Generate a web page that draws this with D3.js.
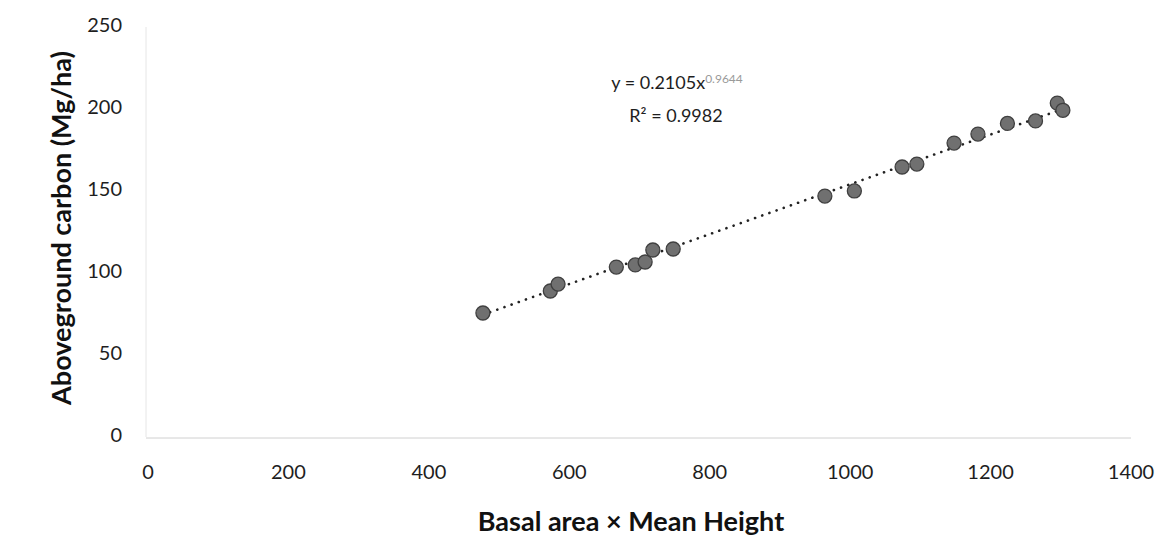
<!DOCTYPE html>
<html>
<head>
<meta charset="utf-8">
<script src="https://cdn.jsdelivr.net/npm/d3@7"></script>
<style>
  body { margin: 0; background: #fff; }
  svg { font-family: Lato, "Open Sans", sans-serif; }
</style>
</head>
<body>
<div id="chart"></div>
<script>
// data
const basalHeight = [477, 573, 584, 667, 694, 708, 719, 748, 964, 1006, 1074, 1095, 1148, 1182, 1224, 1264, 1295, 1303];
const carbon      = [74.4, 87.8, 92, 102.4, 103.7, 105.5, 112.8, 113.4, 145.7, 148.8, 163.4, 165.2, 178, 183.5, 190, 191.5, 202.4, 198];
const xTicks = [0, 200, 400, 600, 800, 1000, 1200, 1400];
const yTicks = [0, 50, 100, 150, 200, 250];

const width = 1161, height = 552;
const margin = { left: 148, right: 30, top: 25, bottom: 117 };

const svg = d3.select("#chart")
    .append("svg")
    .attr("width", width)
    .attr("height", height);

const x = d3.scaleLinear()
    .domain([0, 1400])
    .range([margin.left, margin.left + 983]);

const y = d3.scaleLinear()
    .domain([0, 250])
    .range([height - margin.bottom, margin.top]);

// axis lines (faint, excel style)
svg.append("line")
    .attr("x1", x(0) - 2).attr("x2", x(0) - 2)
    .attr("y1", y(250) + 2).attr("y2", y(0) + 2)
    .attr("stroke", "#e6e6e6");
svg.append("line")
    .attr("x1", x(0) - 2).attr("x2", x(1400))
    .attr("y1", y(0) + 3).attr("y2", y(0) + 3)
    .attr("stroke", "#d0d0d0");

// y tick labels
svg.append("g")
    .selectAll("text")
    .data(yTicks)
    .enter().append("text")
    .attr("x", 122)
    .attr("y", d => y(d) + 7)
    .attr("text-anchor", "end")
    .attr("font-size", 20)
    .attr("fill", "#1e1e1e")
    .text(d => d);

// x tick labels
svg.append("g")
    .selectAll("text")
    .data(xTicks)
    .enter().append("text")
    .attr("x", d => x(d))
    .attr("y", 479)
    .attr("text-anchor", "middle")
    .attr("font-size", 20)
    .attr("fill", "#1e1e1e")
    .text(d => d);

// axis titles
svg.append("text")
    .attr("transform", `translate(71,${(y(0) + y(250)) / 2 - 2}) rotate(-90)`)
    .attr("text-anchor", "middle")
    .attr("font-size", 27)
    .attr("font-weight", "bold")
    .attr("fill", "#111")
    .text("Aboveground carbon (Mg/ha)");

svg.append("text")
    .attr("x", 631)
    .attr("y", 531)
    .attr("text-anchor", "middle")
    .attr("font-size", 27)
    .attr("font-weight", "bold")
    .attr("fill", "#111")
    .text("Basal area × Mean Height");

// power trendline (log-log least squares)
const lx = basalHeight.map(Math.log), ly = carbon.map(Math.log);
const mx = d3.mean(lx), my = d3.mean(ly);
const b = d3.sum(lx, (v, i) => (v - mx) * (ly[i] - my)) / d3.sum(lx, v => (v - mx) * (v - mx));
const a = Math.exp(my - b * mx);
const [xmin, xmax] = d3.extent(basalHeight);
const trend = d3.range(0, 61).map(i => {
    const xv = xmin + (xmax - xmin) * i / 60;
    return [xv, a * Math.pow(xv, b)];
});

svg.append("path")
    .datum(trend)
    .attr("fill", "none")
    .attr("stroke", "#222")
    .attr("stroke-width", 2.6)
    .attr("stroke-linecap", "round")
    .attr("stroke-dasharray", "0.1 7.5")
    .attr("d", d3.line().x(d => x(d[0])).y(d => y(d[1])));

// points
svg.append("g")
    .selectAll("circle")
    .data(basalHeight)
    .enter().append("circle")
    .attr("cx", d => x(d))
    .attr("cy", (d, i) => y(carbon[i]))
    .attr("r", 7)
    .attr("fill", "#707070")
    .attr("stroke", "#404040")
    .attr("stroke-width", 1.3);

// equation
const eq = svg.append("text")
    .attr("x", 677)
    .attr("y", 89)
    .attr("text-anchor", "middle")
    .attr("font-size", 18)
    .attr("fill", "#1e1e1e");
eq.append("tspan").text("y = 0.2105x");
eq.append("tspan")
    .attr("dy", -6)
    .attr("font-size", 12)
    .attr("fill", "#9a9a9a")
    .text("0.9644");

svg.append("text")
    .attr("x", 676)
    .attr("y", 122)
    .attr("text-anchor", "middle")
    .attr("font-size", 18)
    .attr("fill", "#1e1e1e")
    .text("R² = 0.9982");
</script>
</body>
</html>
